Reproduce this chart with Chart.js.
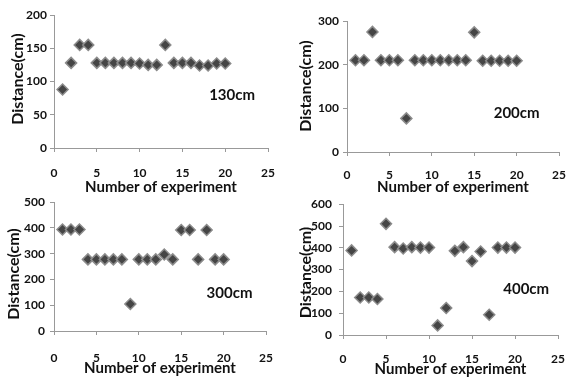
<!DOCTYPE html>
<html>
<head>
<meta charset="utf-8">
<script src="https://cdn.jsdelivr.net/npm/chart.js@4/dist/chart.umd.min.js"></script>
<style>
  html, body { margin: 0; padding: 0; background: #fff; }
  body { width: 578px; height: 378px; position: relative; overflow: hidden; }
  .panel { position: absolute; }
</style>
</head>
<body>
<div class="panel" style="left:0;top:0;width:289px;height:196px"><canvas id="c1"></canvas></div>
<div class="panel" style="left:289px;top:0;width:289px;height:196px"><canvas id="c2"></canvas></div>
<div class="panel" style="left:0;top:190px;width:289px;height:188px"><canvas id="c3"></canvas></div>
<div class="panel" style="left:289px;top:190px;width:289px;height:188px"><canvas id="c4"></canvas></div>
<script>
// ---- data ----
const experimentNumbers = [1,2,3,4,5,6,7,8,9,10,11,12,13,14,15,16,17,18,19,20];
const dist130 = [88,128,155,155,128,128,128,128,128,127,125,125,155,128,128,128,124,124,127,127];
const dist200 = [210,210,275,210,210,210,77,210,210,210,210,210,210,210,274,209,209,209,209,209];
const dist300 = [394,394,394,278,278,278,278,278,105,278,278,278,297,278,392,392,278,392,278,278];
const dist400 = [388,172,172,165,510,403,397,403,401,401,44,124,386,403,339,383,93,401,401,401];
const panelLabels = ['130cm', '200cm', '300cm', '400cm'];
const yMaxValues = [200, 300, 500, 600];
const yStepValues = [50, 100, 100, 100];
const xTickMax = 25;
const xTickStep = 5;
const xTitle = 'Number of experiment';
const yTitle = 'Distance(cm)';
// label anchor positions (data units)
const labelX = [20.8, 20, 20.7, 21.3];
const labelY = [80, 89, 145, 211];

const FONT = 'Lato, "Open Sans", sans-serif';

const textPlugin = {
  id: 'panelText',
  afterDraw(chart, args, opts) {
    const ctx = chart.ctx;
    ctx.save();
    ctx.fillStyle = '#111';
    ctx.textAlign = 'center';
    ctx.textBaseline = 'middle';
    ctx.font = 'bold 15px ' + FONT;
    const px = chart.scales.x.getPixelForValue(opts.lx);
    const py = chart.scales.y.getPixelForValue(opts.ly);
    ctx.fillText(opts.label, px, py);
    ctx.font = 'bold 16px ' + FONT;
    ctx.translate(opts.tx, opts.ty);
    ctx.rotate(-Math.PI / 2);
    ctx.fillText(yTitle, 0, 0);
    ctx.restore();
  }
};

function makeChart(id, values, i, lay) {
  const pts = experimentNumbers.map((n, k) => ({ x: n, y: values[k] }));
  new Chart(document.getElementById(id), {
    type: 'scatter',
    data: { datasets: [{
      data: pts,
      pointStyle: 'rectRot',
      pointRadius: 5.5,
      pointHoverRadius: 5.5,
      backgroundColor: '#454545',
      borderColor: '#8c8c8c',
      borderWidth: 1.5
    }]},
    options: {
      responsive: true,
      maintainAspectRatio: false,
      animation: false,
      events: [],
      layout: { padding: { left: 0, top: lay.T, right: lay.R, bottom: 0 } },
      plugins: {
        legend: { display: false },
        tooltip: { enabled: false },
        panelText: { label: panelLabels[i], lx: labelX[i], ly: labelY[i], tx: lay.tx, ty: lay.ty }
      },
      scales: {
        x: {
          type: 'linear', min: 0, max: xTickMax,
          afterFit(s) { s.height = lay.H; },
          ticks: { stepSize: xTickStep, autoSkip: false, padding: lay.xp, color: '#111',
                   font: { family: FONT, size: 12, weight: 'bold' }, maxRotation: 0 },
          grid: { drawOnChartArea: false, drawTicks: true, tickLength: 4, color: '#999' },
          border: { color: '#999', width: 1 },
          title: { display: true, text: xTitle, color: '#111', padding: { top: 0, bottom: lay.tb },
                   font: { family: FONT, size: 15, weight: 'bold', lineHeight: 1.2 } }
        },
        y: {
          min: 0, max: yMaxValues[i],
          afterFit(s) { s.width = lay.L; },
          ticks: { stepSize: yStepValues[i], padding: lay.yp, color: '#111',
                   font: { family: FONT, size: 12, weight: 'bold' } },
          grid: { drawOnChartArea: false, drawTicks: true, tickLength: 4, color: '#999' },
          border: { color: '#999', width: 1 }
        }
      }
    },
    plugins: [textPlugin]
  });
}

makeChart('c1', dist130, 0, { L: 54, R: 19, T: 15, H: 48, xp: 14, yp: 3, tb: 0, tx: 18, ty: 79 });
makeChart('c2', dist200, 1, { L: 58, R: 11, T: 21, H: 44, xp: 12, yp: 4, tb: 0, tx: 17, ty: 86 });
makeChart('c3', dist300, 2, { L: 54, R: 19, T: 10, H: 47, xp: 16, yp: 5, tb: 1, tx: 14, ty: 84 });
makeChart('c4', dist400, 3, { L: 54, R: 12, T: 14, H: 43, xp: 13, yp: 7, tb: 0, tx: 17, ty: 82.5 });
</script>
</body>
</html>
